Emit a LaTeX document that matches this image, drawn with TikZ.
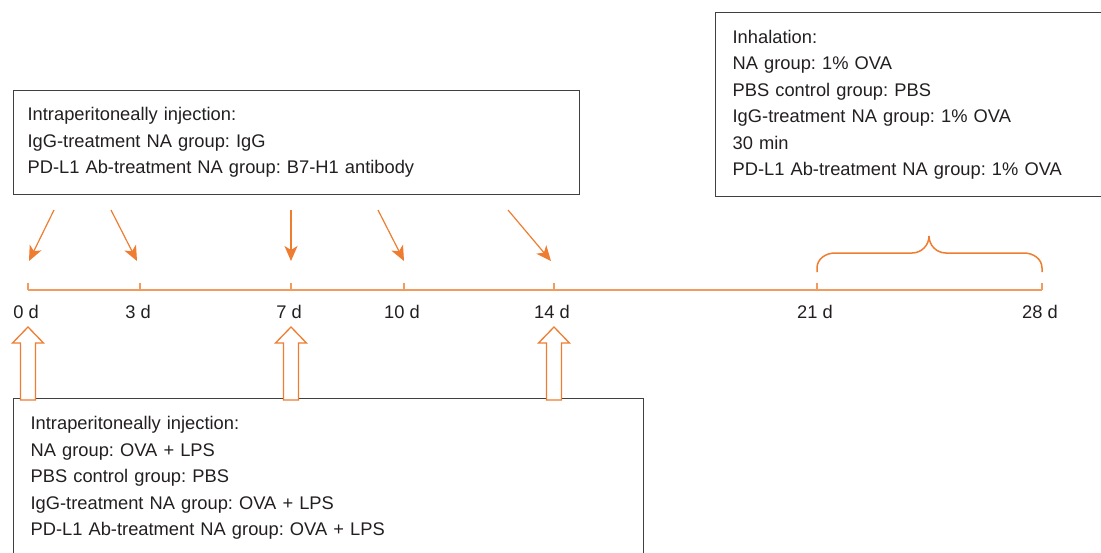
\documentclass[tikz,border=0pt]{standalone}
\usepackage{fontspec}
\setmainfont{Liberation Sans}
\frenchspacing
\usetikzlibrary{arrows.meta}
\definecolor{orangeFleche}{HTML}{EE7D31}
\definecolor{orangeAxe}{HTML}{F29B5E}
\definecolor{grisTexte}{HTML}{231F20}
\definecolor{grisCadre}{HTML}{404040}
\begin{document}
\begin{tikzpicture}[x=1pt,y=-1pt]
		% Styles
		\tikzstyle{cadre}=[draw=grisCadre,line width=1.3pt,anchor=north west,align=left,inner ysep=0pt,text=grisTexte,font=\fontsize{18.3}{26.5}\selectfont]
		\tikzstyle{jour}=[text=grisTexte,font=\fontsize{18.3}{21}\selectfont]
		\tikzstyle{axe}=[orangeAxe,line width=1.5pt]
		\tikzstyle{injection}=[-{Stealth[length=15pt,width=13pt,inset=4pt]},orangeFleche,line width=1.2pt]
		\tikzstyle{fleche}=[draw=orangeFleche,fill=white,line width=1.3pt,line join=miter]
		% Dimensions
		\def\NiveauAxe{290}
		\def\HauteurTrait{7}
		\useasboundingbox (0,0) rectangle (1101,552);
		\clip (0,0) rectangle (1101,552);
		% Cadres
		\node[cadre,text width=538pt,inner xsep=14pt,minimum height=104pt] (ipHaut) at (13,90) {Intraperitoneally injection:\\IgG-treatment NA group: IgG\\PD-L1 Ab-treatment NA group: B7-H1 antibody};
		\node[cadre,text width=361pt,inner xsep=17pt,minimum height=184pt] (inhal) at (715,12) {Inhalation:\\NA group: 1\% OVA\\PBS control group: PBS\\IgG-treatment NA group: 1\% OVA\\30 min\\PD-L1 Ab-treatment NA group: 1\% OVA};
		\node[cadre,text width=596pt,inner xsep=17pt,minimum height=159pt] (ipBas) at (13,398) {Intraperitoneally injection:\\NA group: OVA + LPS\\PBS control group: PBS\\IgG-treatment NA group: OVA + LPS\\PD-L1 Ab-treatment NA group: OVA + LPS};
		% Axe du temps
		\foreach \j/\x in {0/28,3/140,7/291,10/404,14/554,21/817,28/1042}{
			\coordinate (j\j) at (\x,\NiveauAxe);
			\draw[axe] (j\j) -- ++(0,-\HauteurTrait);
			\node[jour] (l\j) at ([xshift=-2pt,yshift=-22pt]j\j) {\j\ d};
		}
		\draw[axe] (j0) -- (j28);
		% Fleches d'injection
		\foreach \j/\da/\db in {0/26/1,3/-29/-3,7/0/0,10/-26/0,14/-46/-3}{
			\coordinate (d\j) at ([xshift=\da pt,yshift=80pt]j\j);
			\coordinate (f\j) at ([xshift=\db pt,yshift=29pt]j\j);
			\draw[injection] (d\j) -- (f\j);
		}
		\foreach \j in {0,7,14}
			\draw[fleche,shift={(j\j)}] (-7.5,110) -- (-7.5,53) -- (-15.5,53) -- (0,37) -- (15.5,53) -- (7.5,53) -- (7.5,110) -- cycle;
		% Accolade
		\draw[axe,orangeFleche] ([yshift=18pt]j21) -- ++(0,-4) to[out=90,in=180] ++(18,-15) -- ++(77,0) to[out=0,in=-90] ++(17,-17) to[out=-90,in=180] ++(17,17) -- ++(78,0) to[out=0,in=90] ++(18,15) -- ++(0,4);
\end{tikzpicture}
\end{document}
